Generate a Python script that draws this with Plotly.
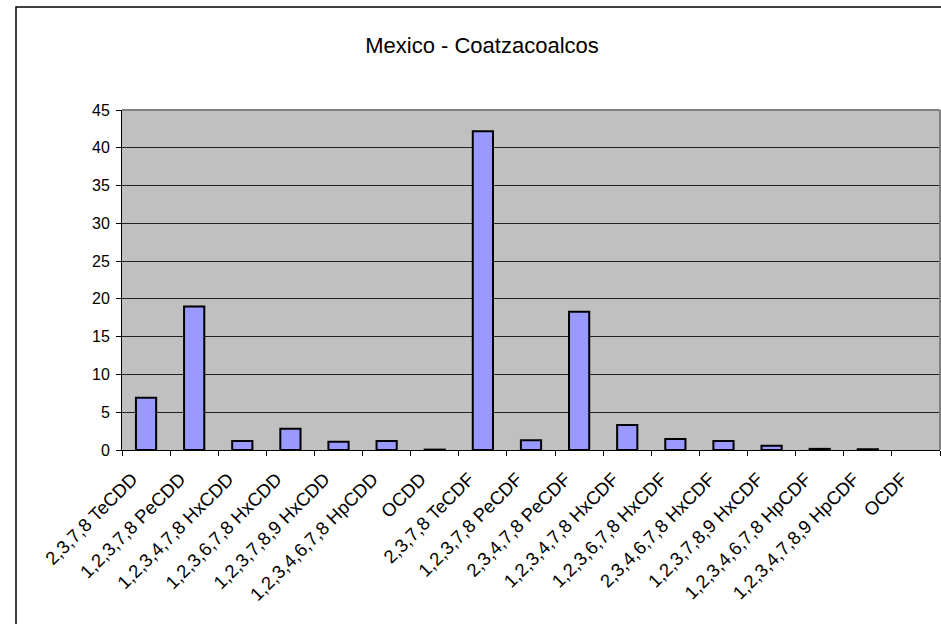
import plotly.graph_objects as go

categories = [
    "2,3,7,8 TeCDD", "1,2,3,7,8 PeCDD", "1,2,3,4,7,8 HxCDD", "1,2,3,6,7,8 HxCDD",
    "1,2,3,7,8,9 HxCDD", "1,2,3,4,6,7,8 HpCDD", "OCDD", "2,3,7,8 TeCDF",
    "1,2,3,7,8 PeCDF", "2,3,4,7,8 PeCDF", "1,2,3,4,7,8 HxCDF", "1,2,3,6,7,8 HxCDF",
    "2,3,4,6,7,8 HxCDF", "1,2,3,7,8,9 HxCDF", "1,2,3,4,6,7,8 HpCDF", "1,2,3,4,7,8,9 HpCDF",
    "OCDF",
]
values = [6.9, 19.0, 1.2, 2.8, 1.1, 1.2, 0.05, 42.2, 1.3, 18.3, 3.3, 1.45, 1.2, 0.55, 0.15, 0.1, 0.0]
y_ticks = [0, 5, 10, 15, 20, 25, 30, 35, 40, 45]
title_text = "Mexico - Coatzacoalcos"

W, H = 941, 624
L, R, T, B = 122, 1, 110, 174
pw, ph = W - L - R, H - T - B

def px_x(px):
    return (px - L) / pw

def px_y(py):
    return (H - B - py) / ph

FONT = "Liberation Sans, Arial, sans-serif"

outline_w = [2 if v > 0 else 0 for v in values]

fig = go.Figure(go.Bar(
    x=categories, y=values,
    marker=dict(color="#9999FF", line=dict(color="black", width=outline_w)),
    width=0.42,
))

fig.update_layout(
    width=W, height=H,
    margin=dict(l=L, r=R, t=T, b=B, pad=0),
    paper_bgcolor="white", plot_bgcolor="#C0C0C0",
    showlegend=False,
    font=dict(family=FONT, color="black", size=16),
    title=dict(text=title_text, x=482 / W, xref="container", xanchor="center",
               y=1 - 45 / H, yref="container", yanchor="middle",
               font=dict(family=FONT, size=22, color="black")),
    xaxis=dict(type="category", tickson="boundaries", ticks="outside", ticklen=5,
               tickcolor="black", tickwidth=1, showline=True, linecolor="black",
               linewidth=1, showgrid=False, tickangle=-45,
               ticklabelstandoff=10, ticklabelshift=-14,
               tickfont=dict(family=FONT, size=18.5, color="black")),
    yaxis=dict(range=[0, 45], tickvals=y_ticks, ticks="outside", ticklen=5,
               tickcolor="black", tickwidth=1, showline=True, linecolor="black",
               linewidth=1, showgrid=True, gridcolor="#222222", gridwidth=1,
               zeroline=False, ticklabelstandoff=3,
               tickfont=dict(family=FONT, size=16, color="black")),
    shapes=[
        dict(type="rect", xref="paper", yref="paper",
             x0=px_x(16), x1=px_x(1000), y0=px_y(700), y1=px_y(7),
             line=dict(color="black", width=1.5), fillcolor="rgba(0,0,0,0)", layer="above"),
        dict(type="line", xref="paper", yref="paper", x0=0, x1=1, y0=1, y1=1,
             line=dict(color="#808080", width=2), layer="above"),
        dict(type="line", xref="paper", yref="paper", x0=1, x1=1, y0=0, y1=1,
             line=dict(color="#808080", width=2), layer="above"),
    ],
)

fig.write_html("out.html", config={"displayModeBar": False},
               post_script="document.body.style.margin='0';")
